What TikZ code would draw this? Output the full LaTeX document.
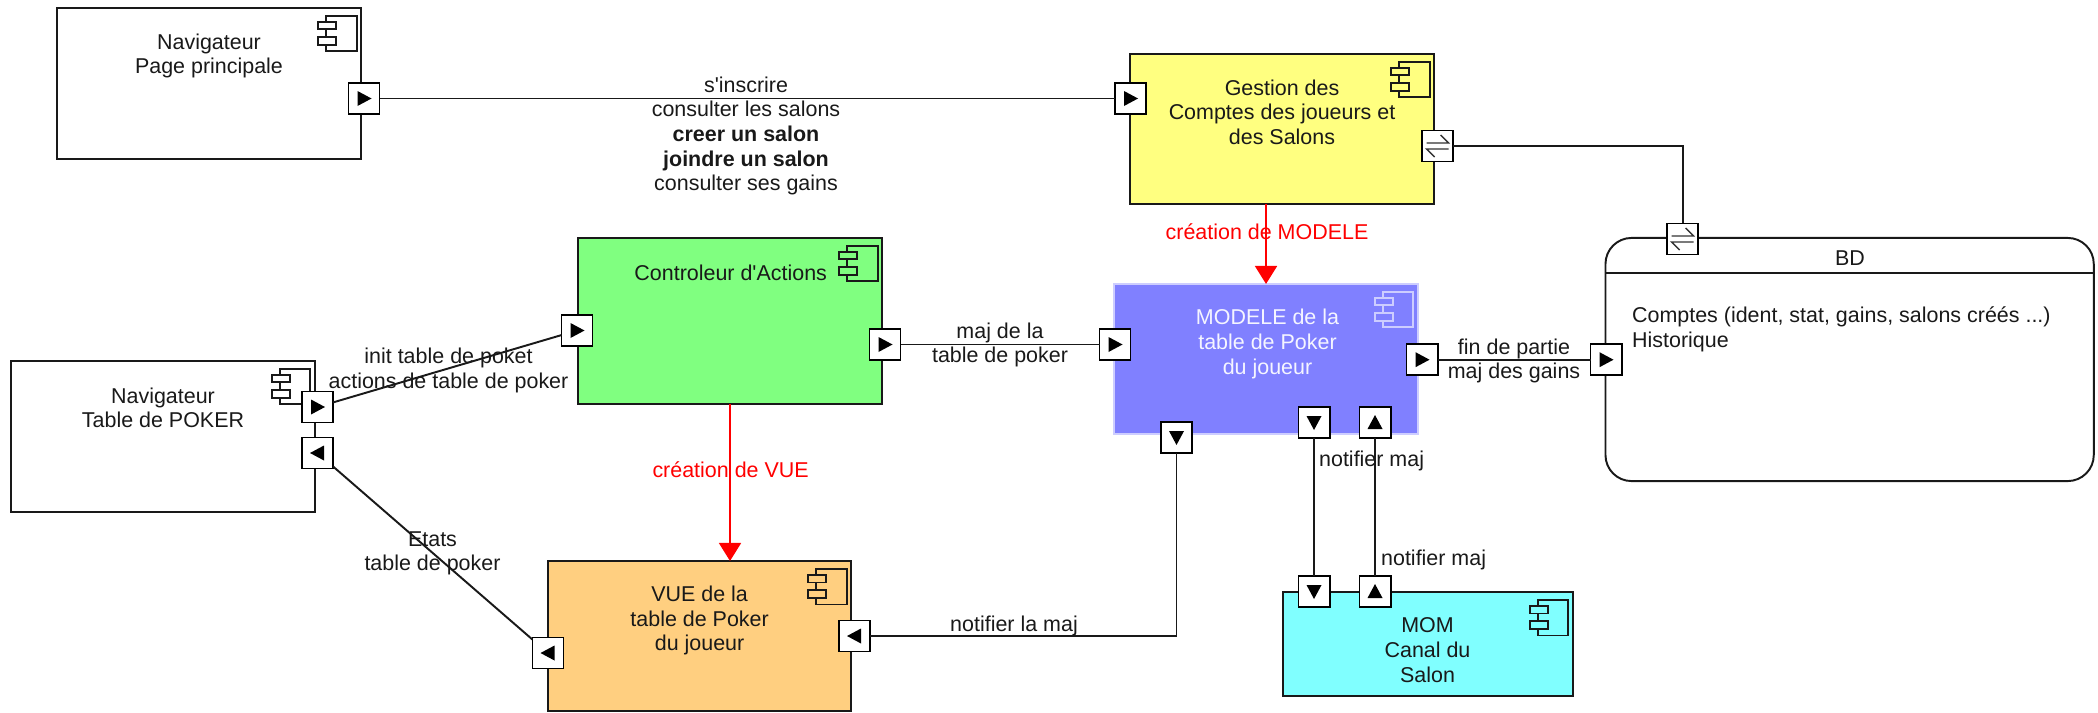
\documentclass[tikz,border=0pt]{standalone}
\usepackage{fontspec}
\setmainfont{Liberation Sans}[Ligatures=TeXOff]
\usetikzlibrary{arrows.meta}
\definecolor{gestblock}{RGB}{255, 255, 128}
\definecolor{ctrlblock}{RGB}{128, 255, 128}
\definecolor{modblock}{RGB}{128, 128, 255}
\definecolor{modline}{RGB}{205, 205, 255}
\definecolor{vueblock}{RGB}{255, 207, 128}
\definecolor{momblock}{RGB}{128, 255, 255}
\tikzset{
	compbox/.style={draw=black!90, line width=0.55pt, inner sep=0pt, outer sep=0pt},
	txt/.style={inner sep=0pt, align=center, text=black!90, font=\fontsize{6.1}{7}\selectfont},
	redtxt/.style={txt, text=red},
	wire/.style={draw=black!90, line width=0.55pt},
	redwire/.style={draw=red, line width=0.5pt, -{Triangle[length=1.8mm, width=2.2mm]}},
	portbox/.style={draw=black, fill=white, line width=0.55pt, minimum size=0.31cm, inner sep=0pt, outer sep=0pt},
	portright/.style={portbox, path picture={\fill[black] ([shift={(-6.5,-7.5)}]path picture bounding box.center) -- ++(14,7.5) -- ++(-14,7.5) -- cycle;}},
	portleft/.style={portbox, path picture={\fill[black] ([shift={(6.5,-7.5)}]path picture bounding box.center) -- ++(-14,7.5) -- ++(14,7.5) -- cycle;}},
	portdown/.style={portbox, path picture={\fill[black] ([shift={(-7.5,-6.5)}]path picture bounding box.center) -- ++(15,0) -- ++(-7.5,14) -- cycle;}},
	portup/.style={portbox, path picture={\fill[black] ([shift={(-7.5,6.5)}]path picture bounding box.center) -- ++(15,0) -- ++(-7.5,-14) -- cycle;}},
	portboth/.style={portbox, path picture={
		\draw[line width=0.4pt, black!80] ([shift={(-11,-3)}]path picture bounding box.center) -- ++(22,0) -- ++(-8,-8);
		\draw[line width=0.4pt, black!80] ([shift={(11,3)}]path picture bounding box.center) -- ++(-22,0) -- ++(8,8);}},
}
% small component symbol in the corner of a block
\newcommand{\compicon}[3]{
	\draw[#2, line width=0.55pt] ([shift={(-35,8)}]#1.north east) rectangle ([shift={(-4.5,43.5)}]#1.north east);
	\draw[#2, fill=#3, line width=0.55pt] ([shift={(-43,14)}]#1.north east) rectangle ([shift={(-25,21.5)}]#1.north east);
	\draw[#2, fill=#3, line width=0.55pt] ([shift={(-43,29)}]#1.north east) rectangle ([shift={(-25,37)}]#1.north east);
}

\begin{document}
\begin{tikzpicture}[x=0.01cm, y=-0.01cm]
	\useasboundingbox (0,0) rectangle (2098,712);

	% Blocks
	\node[compbox, minimum width=3.04cm, minimum height=1.51cm] (navpage) at (209,83.5) {};
	\node[compbox, fill=gestblock, minimum width=3.04cm, minimum height=1.50cm] (gestion) at (1282,129) {};
	\node[compbox, fill=ctrlblock, minimum width=3.04cm, minimum height=1.66cm] (controleur) at (730,321) {};
	\node[compbox, draw=modline, fill=modblock, minimum width=3.03cm, minimum height=1.50cm] (modele) at (1266,359) {};
	\node[compbox, minimum width=3.04cm, minimum height=1.51cm] (navtable) at (162.7,436.5) {};
	\node[compbox, fill=vueblock, minimum width=3.03cm, minimum height=1.50cm] (vue) at (699.7,636) {};
	\node[compbox, fill=momblock, minimum width=2.89cm, minimum height=1.04cm] (mom) at (1428,644) {};
	\node[compbox, rounded corners=2.6mm, minimum width=4.88cm, minimum height=2.43cm] (bd) at (1849.6,359.5) {};
	\coordinate (bdhead) at (1850,273);
	\draw[wire] (bd.west |- bdhead) -- (bd.east |- bdhead);

	\compicon{navpage}{black!90}{white}
	\compicon{gestion}{black!90}{gestblock}
	\compicon{controleur}{black!90}{ctrlblock}
	\compicon{modele}{modline}{modblock}
	\compicon{navtable}{black!90}{white}
	\compicon{vue}{black!90}{vueblock}
	\compicon{mom}{black!90}{momblock}

	% Ports
	\node[portright] (pagesortie) at (364,98.5) {};
	\node[portright] (gestentree) at (1130.5,98.5) {};
	\node[portboth] (gestbd) at (1437.5,146) {};
	\node[portboth] (bdgest) at (1682.5,239) {};
	\node[portright] (tablesortie) at (317.5,407) {};
	\node[portleft] (tableentree) at (317.5,453) {};
	\node[portright] (ctrlentree) at (577,330.5) {};
	\node[portright] (ctrlsortie) at (885,344.5) {};
	\node[portright] (modentree) at (1115,344.5) {};
	\node[portright] (modsortie) at (1422,359.7) {};
	\node[portright] (bdentree) at (1606,359.7) {};
	\node[portdown] (modvue) at (1176.5,437.5) {};
	\node[portdown] (modmom) at (1314,422.5) {};
	\node[portup] (modretour) at (1375,422.5) {};
	\node[portdown] (momentree) at (1314,591.5) {};
	\node[portup] (momsortie) at (1375,591.5) {};
	\node[portleft] (vueetats) at (548,653) {};
	\node[portleft] (vuenotif) at (854.5,636) {};

	% Connectors
	\draw[wire] (pagesortie) -- (gestentree);
	\draw[wire] (gestbd) -| (bdgest);
	\draw[wire] (tablesortie) -- (ctrlentree);
	\draw[wire] (tableentree) -- (vueetats);
	\draw[wire] (ctrlsortie) -- (modentree);
	\draw[wire] (modsortie) -- (bdentree);
	\draw[wire] (modvue) |- (vuenotif);
	\draw[wire] (modmom) -- (momentree);
	\draw[wire] (momsortie) -- (modretour);
	\draw[redwire] (gestion.south -| modele.north) -- (modele.north);
	\draw[redwire] (controleur.south) -- (controleur.south |- vue.north);

	% Block texts
	\node[txt] (navpagetxt) at (209,56) {Navigateur\\Page principale};
	\node[txt] (gestiontxt) at (1282,112) {Gestion des\\Comptes des joueurs et\\des Salons};
	\node[txt] (controleurtxt) at (730.7,273) {Controleur d'Actions};
	\node[txt, text=white!92!modblock] (modeletxt) at (1267.5,344) {MODELE de la\\table de Poker\\du joueur};
	\node[txt] (navtabletxt) at (163,408) {Navigateur\\Table de POKER};
	\node[txt] (vuetxt) at (699.6,620.5) {VUE de la\\table de Poker\\du joueur};
	\node[txt] (momtxt) at (1427.5,650) {MOM\\Canal du\\Salon};
	\node[txt] (bdtxt) at (1850,258.5) {BD};
	\node[txt, anchor=west, align=left] (bdliste) at (1631.4,329.5) {Comptes (ident, stat, gains, salons créés ...)\\Historique};

	% Connector labels
	\node[txt] (inscrire) at (746,136) {s'inscrire\\consulter les salons\\\textbf{creer un salon}\\\textbf{joindre un salon}\\consulter ses gains};
	\node[redtxt] (creamodele) at (1267,232) {création de MODELE};
	\node[redtxt] (creavue) at (730.6,469.6) {création de VUE};
	\node[txt] (initpoker) at (448.5,370.5) {init table de poket\\actions de table de poker};
	\node[txt] (etats) at (432.5,553.5) {Etats\\table de poker};
	\node[txt] (majtable) at (1000,345) {maj de la\\table de poker};
	\node[txt] (finpartie) at (1514,361) {fin de partie\\maj des gains};
	\node[txt] (notifvue) at (1014,626) {notifier la maj};
	\node[txt] (notifhaut) at (1371.6,460.5) {notifier maj};
	\node[txt] (notifbas) at (1433.6,559.5) {notifier maj};
\end{tikzpicture}
\end{document}
